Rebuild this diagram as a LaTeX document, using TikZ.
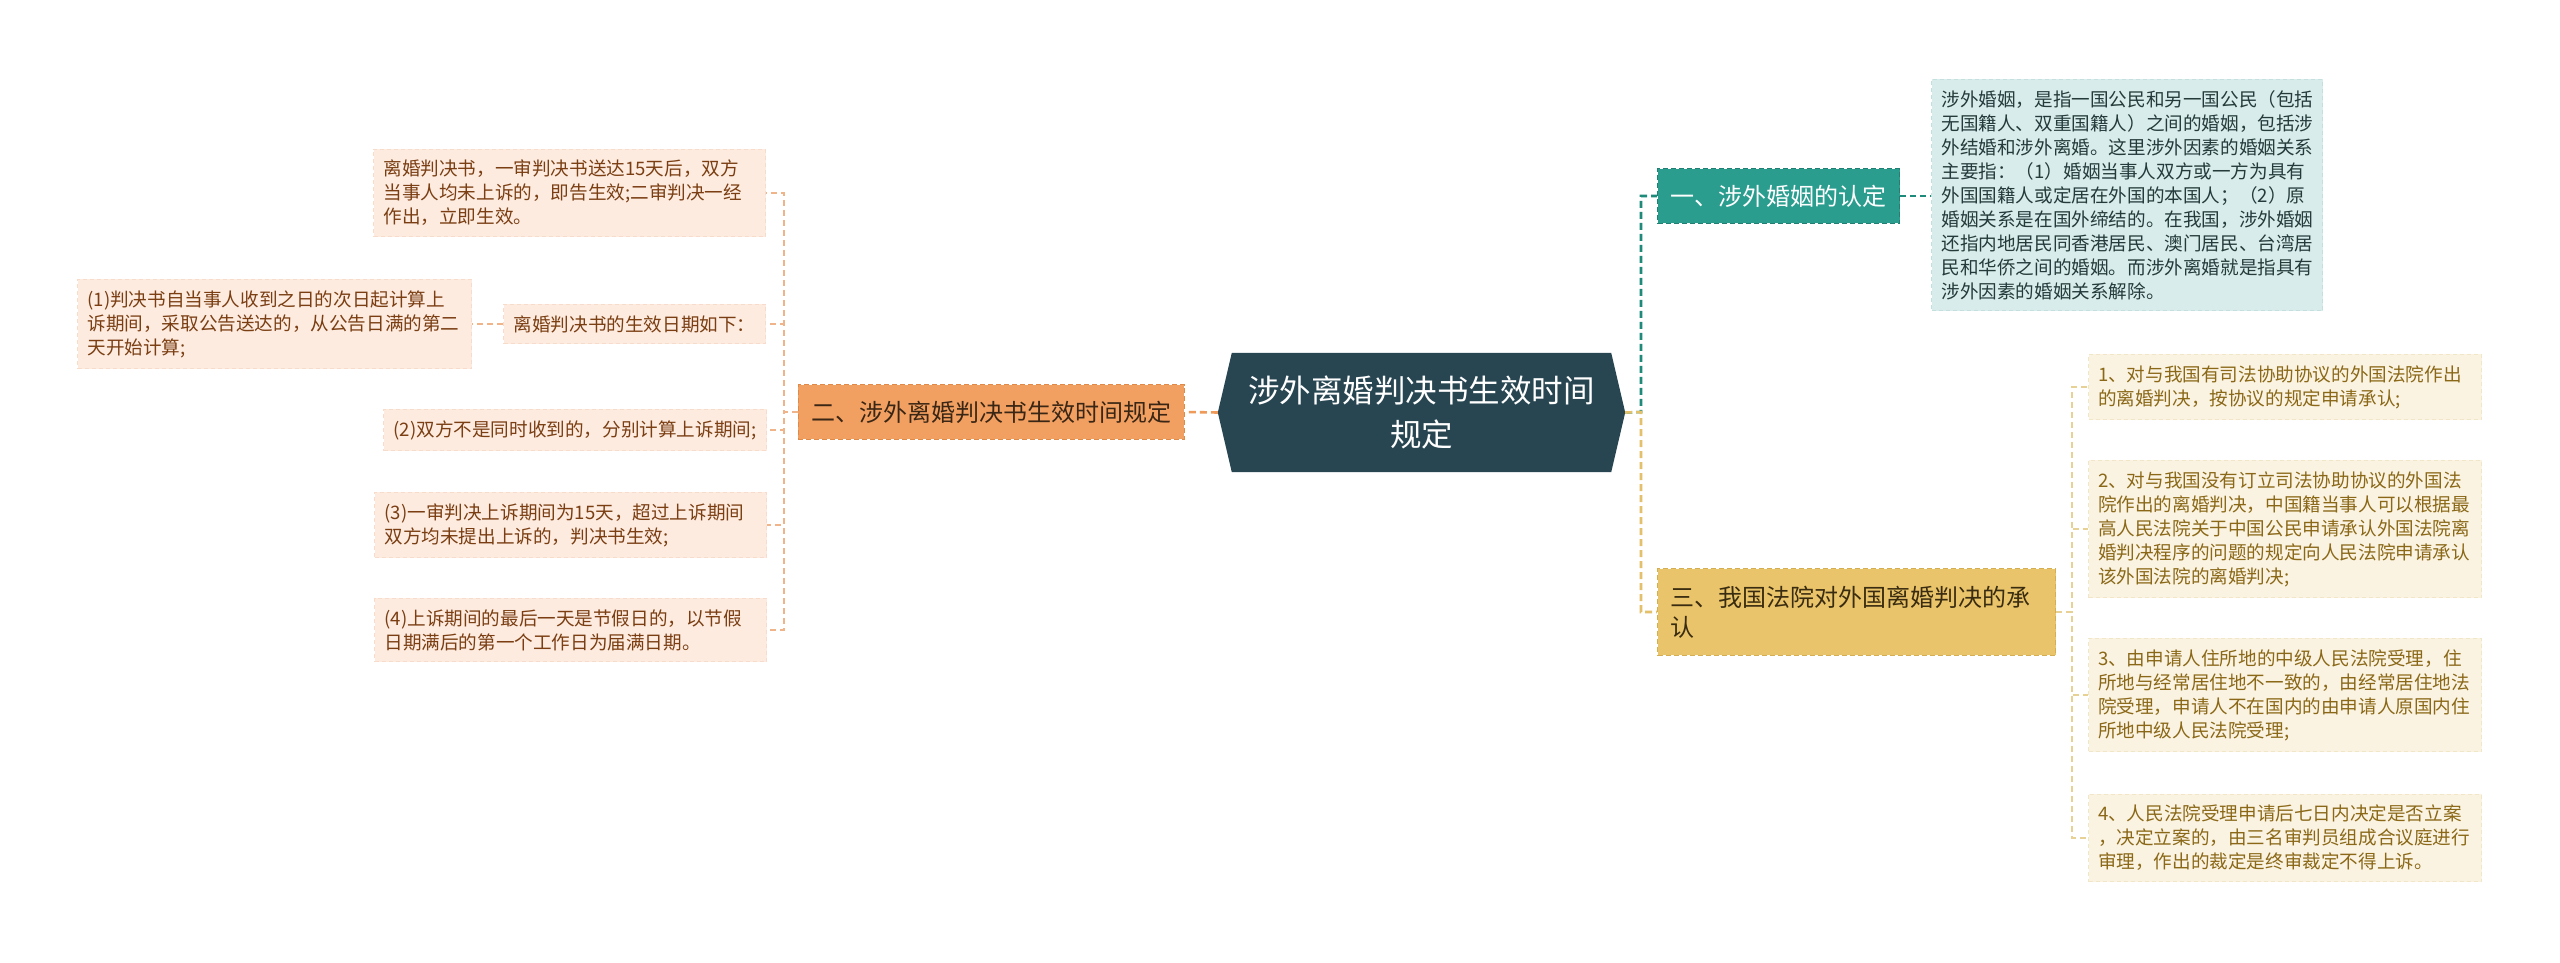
\documentclass[tikz,border=0pt]{standalone}
\usepackage{fontspec}
\setmainfont{Noto Sans CJK SC}
\usetikzlibrary{calc,backgrounds}
\definecolor{rootc}{HTML}{284652}
\definecolor{orngc}{HTML}{F2A062}
\definecolor{orngb}{HTML}{E08A48}
\definecolor{orngt}{HTML}{3A2614}
\definecolor{leafLc}{HTML}{FDEBE0}
\definecolor{leafLb}{HTML}{F7DCCB}
\definecolor{leafLt}{HTML}{7A3E12}
\definecolor{tealc}{HTML}{2A9D8F}
\definecolor{tealb}{HTML}{1F8073}
\definecolor{tleafc}{HTML}{D7ECEB}
\definecolor{tleafb}{HTML}{C3E0DE}
\definecolor{tleaft}{HTML}{253B3B}
\definecolor{yelc}{HTML}{E9C46A}
\definecolor{yelb}{HTML}{D6AE52}
\definecolor{yelt}{HTML}{3A2C10}
\definecolor{yleafc}{HTML}{FBF3E1}
\definecolor{yleafb}{HTML}{F2E6C8}
\definecolor{yleaft}{HTML}{8A6818}
\definecolor{conOc}{HTML}{EE9A5A}
\definecolor{conOsc}{HTML}{F0B48A}
\definecolor{conTc}{HTML}{1E8A7A}
\definecolor{conYc}{HTML}{E3C06A}
\definecolor{conYsc}{HTML}{E8D195}
\begin{document}
\begin{tikzpicture}[x=1pt,y=-1pt,
  leafbase/.style={dashed, dash pattern=on 4pt off 3pt, line width=1pt, font=\fontsize{18.6}{24}\selectfont, align=left, inner xsep=10pt, inner ysep=11pt},
  leafL/.style={leafbase, fill=leafLc, draw=leafLb, text=leafLt},
  leafT/.style={leafbase, fill=tleafc, draw=tleafb, text=tleaft},
  leafY/.style={leafbase, fill=yleafc, draw=yleafb, text=yleaft, inner xsep=9.5pt},
  mainbox/.style={dashed, dash pattern=on 5pt off 3pt, line width=1.2pt, font=\fontsize{24}{30}\selectfont, inner xsep=13pt, inner ysep=16pt},
  conmain/.style={dashed, dash pattern=on 7pt off 4pt, line width=2.6pt},
  consub/.style={dashed, dash pattern=on 6pt off 4pt, line width=1.5pt}
]
\useasboundingbox (0,0) rectangle (2560,963);

% root
\node[text=white, font=\fontsize{31.5}{44}\selectfont, align=center, minimum width=379pt, minimum height=119pt, inner sep=0pt] (root) at (1421.5,412.5) {涉外离婚判决书生效时间\\规定};
\coordinate (rootL) at ($(root.west)+(-14,0)$);
\coordinate (rootR) at ($(root.east)+(14,0)$);
\begin{scope}[on background layer]
\fill[white] (0,0) rectangle (2560,963);
\fill[rootc] (root.north west) -- (root.north east) -- (rootR) -- (root.south east) -- (root.south west) -- (rootL) -- cycle;
\end{scope}

% left branch
\node[mainbox, fill=orngc, draw=orngb, text=orngt, anchor=east] (orng) at (1185,412) {二、涉外离婚判决书生效时间规定};

\node[leafL, text width=372pt, anchor=east] (l1) at (766,193) {离婚判决书，一审判决书送达15天后，双方\\当事人均未上诉的，即告生效;二审判决一经\\作出，立即生效。};
\node[leafL, anchor=east] (l2) at (766,324) {离婚判决书的生效日期如下：};
\node[leafL, text width=374pt, anchor=east] (l2a) at (472,324) {(1)判决书自当事人收到之日的次日起计算上\\诉期间，采取公告送达的，从公告日满的第二\\天开始计算;};
\node[leafL, anchor=east] (l3) at (767,430) {(2)双方不是同时收到的，分别计算上诉期间;};
\node[leafL, text width=372pt, anchor=east] (l4) at (767,525) {(3)一审判决上诉期间为15天，超过上诉期间\\双方均未提出上诉的，判决书生效;};
\node[leafL, text width=372pt, anchor=east] (l5) at (767,630) {(4)上诉期间的最后一天是节假日的，以节假\\日期满后的第一个工作日为届满日期。};

\coordinate (jL) at (784,412);
\draw[conmain, conOc] (rootL) -- (orng.east);
\foreach \n in {l1,l2,l3,l4,l5}{
  \draw[consub, conOsc] (orng.west) -- (jL) |- (\n.east);
}
\draw[consub, conOsc] (l2.west) -- (l2a.east);

% right branch
\node[mainbox, fill=tealc, draw=tealb, text=white, anchor=west] (teal) at (1657,196) {一、涉外婚姻的认定};
\node[leafT, text width=371pt, anchor=west] (tleaf) at (1931,195) {涉外婚姻，是指一国公民和另一国公民（包括\\无国籍人、双重国籍人）之间的婚姻，包括涉\\外结婚和涉外离婚。这里涉外因素的婚姻关系\\主要指：（1）婚姻当事人双方或一方为具有\\外国国籍人或定居在外国的本国人；（2）原\\婚姻关系是在国外缔结的。在我国，涉外婚姻\\还指内地居民同香港居民、澳门居民、台湾居\\民和华侨之间的婚姻。而涉外离婚就是指具有\\涉外因素的婚姻关系解除。};

\node[mainbox, fill=yelc, draw=yelb, text=yelt, anchor=west, text width=372pt, align=left, inner ysep=17pt] (yel) at (1657,612) {三、我国法院对外国离婚判决的承\\认};

\node[leafY, text width=374pt, anchor=west] (y1) at (2088,387) {1、对与我国有司法协助协议的外国法院作出\\的离婚判决，按协议的规定申请承认;};
\node[leafY, text width=374pt, anchor=west] (y2) at (2088,529) {2、对与我国没有订立司法协助协议的外国法\\院作出的离婚判决，中国籍当事人可以根据最\\高人民法院关于中国公民申请承认外国法院离\\婚判决程序的问题的规定向人民法院申请承认\\该外国法院的离婚判决;};
\node[leafY, text width=374pt, anchor=west] (y3) at (2088,695) {3、由申请人住所地的中级人民法院受理，住\\所地与经常居住地不一致的，由经常居住地法\\院受理，申请人不在国内的由申请人原国内住\\所地中级人民法院受理;};
\node[leafY, text width=374pt, anchor=west] (y4) at (2088,838) {4、人民法院受理申请后七日内决定是否立案\\，决定立案的，由三名审判员组成合议庭进行\\审理，作出的裁定是终审裁定不得上诉。};

\coordinate (jR) at (1641,412);
\draw[conmain, conTc] (rootR) -- (jR) |- (teal.west);
\draw[conmain, conYc] (rootR) -- (jR) |- (yel.west);
\draw[consub, conTc] (teal.east) -- (teal.east -| tleaf.west);
\coordinate (jY) at (2072,612);
\foreach \n in {y1,y2,y3,y4}{
  \draw[consub, conYsc] (yel.east) -- (jY) |- (\n.west);
}
\end{tikzpicture}
\end{document}
